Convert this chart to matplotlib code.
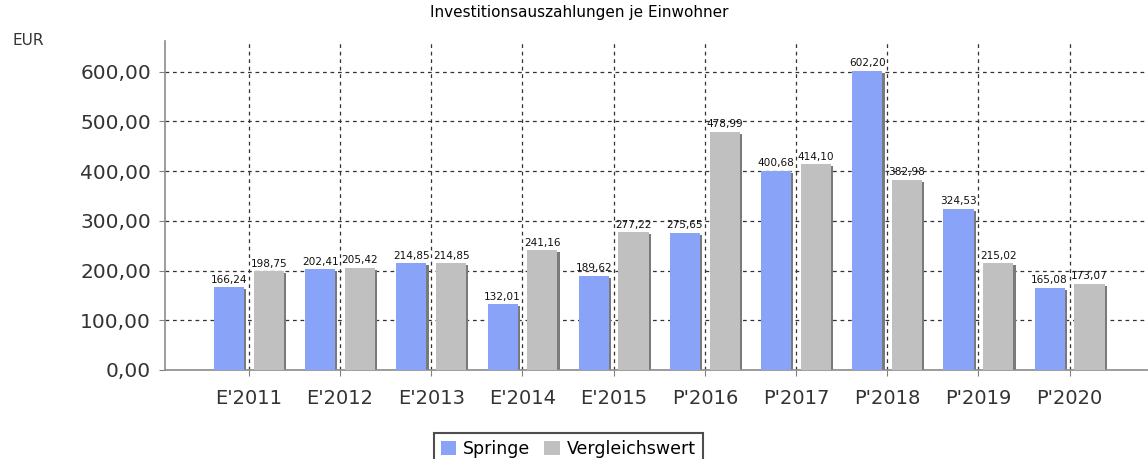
import numpy as np
import matplotlib.pyplot as plt

# Investitionsauszahlungen je Einwohner
years = ["E'2011", "E'2012", "E'2013", "E'2014", "E'2015",
         "P'2016", "P'2017", "P'2018", "P'2019", "P'2020"]
springe = [166.24, 202.41, 214.85, 132.01, 189.62, 275.65, 400.68, 602.20, 324.53, 165.08]
vergleich = [198.75, 205.42, 214.85, 241.16, 277.22, 478.99, 414.10, 382.98, 215.02, 173.07]
yticks = [0, 100, 200, 300, 400, 500, 600]


def de(v):
    return f"{v:.2f}".replace(".", ",")


fig = plt.figure(figsize=(11.48, 4.59), dpi=100)
ax = fig.add_axes([0.1437, 0.194, 0.8563, 0.717])

x = np.arange(len(years))
w = 0.33
off = 0.218
blue = "#88a3f7"
grey = "#c0c0c0"

# shadows first, then bars
ax.bar(x - off + 0.025, np.array(springe) - 4, w, color="#7a7a7a", zorder=2)
ax.bar(x + off + 0.025, np.array(vergleich) - 4, w, color="#7a7a7a", zorder=2)
b1 = ax.bar(x - off, springe, w, color=blue, zorder=3, label="Springe")
b2 = ax.bar(x + off, vergleich, w, color=grey, zorder=3, label="Vergleichswert")

for xi, v in zip(x, springe):
    ax.text(xi - off, v + 5, de(v), ha="center", va="bottom", fontsize=7.6, color="#111111", zorder=5)
for xi, v in zip(x, vergleich):
    ax.text(xi + off, v + 5, de(v), ha="center", va="bottom", fontsize=7.6, color="#111111", zorder=5)

ax.set_xlim(-0.92, 9.86)
ax.set_ylim(0, 662)
ax.set_xticks(x)
ax.set_xticklabels(years, fontsize=14, color="#333333")
ax.set_yticks(yticks)
ax.set_yticklabels([de(v) for v in yticks], fontsize=14.5, color="#333333")
ax.tick_params(axis="both", colors="#808080", labelcolor="#333333", length=4)
ax.tick_params(axis="x", pad=10)
ax.tick_params(axis="y", pad=6)

ax.grid(True, color="#333333", linestyle=(0, (3, 3)), linewidth=0.9, zorder=1)
ax.set_axisbelow(True)
for s in ["top", "right"]:
    ax.spines[s].set_visible(False)
for s in ["left", "bottom"]:
    ax.spines[s].set_color("#8c8c8c")
    ax.spines[s].set_linewidth(1.2)

fig.text(0.505, 0.972, "Investitionsauszahlungen je Einwohner", ha="center", va="center", fontsize=11)
fig.text(0.011, 0.912, "EUR", ha="left", va="center", fontsize=11, color="#333333")

leg = fig.legend(handles=[b1, b2], loc="upper center", bbox_to_anchor=(0.495, 0.075),
                 ncol=2, fontsize=12.5, frameon=True, fancybox=False, handlelength=0.9,
                 handleheight=0.9, handletextpad=0.4, columnspacing=0.8, borderpad=0.4)
leg.get_frame().set_edgecolor("#222222")
leg.get_frame().set_linewidth(1.5)

fig.savefig("out.png", dpi=100)
